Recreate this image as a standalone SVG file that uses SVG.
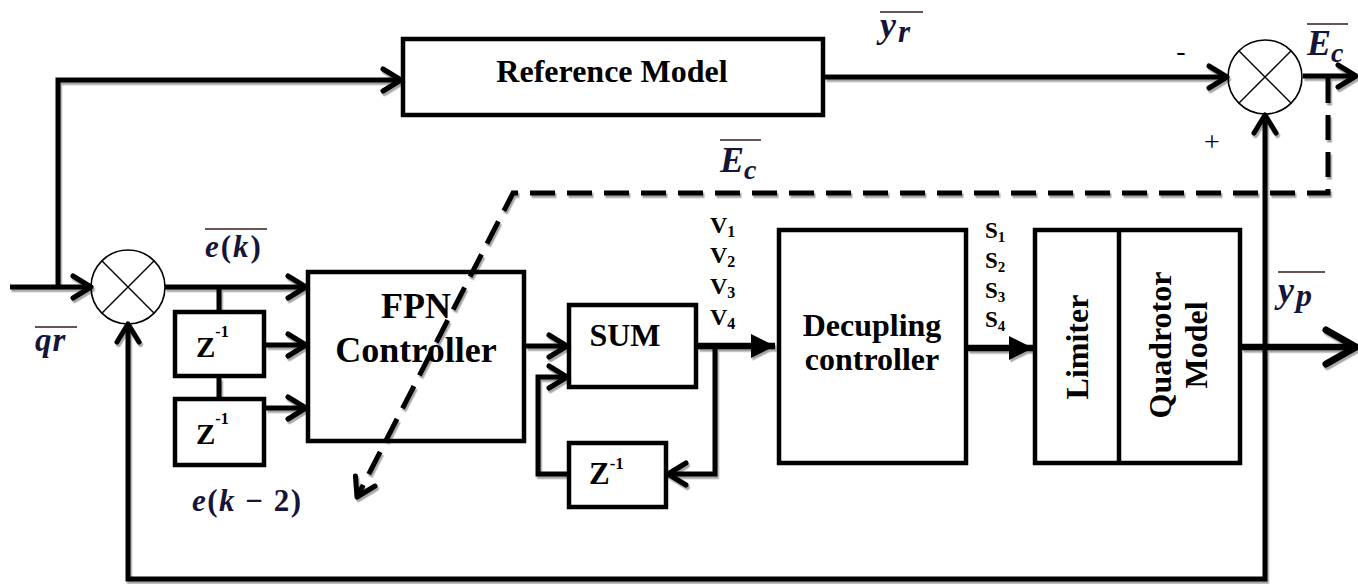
<svg xmlns="http://www.w3.org/2000/svg" width="1358" height="584" viewBox="0 0 1358 584">
<defs>
<style>
.box{fill:#fff;stroke:#000;stroke-width:4.5}
.ln{fill:none;stroke:#000;stroke-width:5;stroke-linejoin:miter}
.thick{fill:none;stroke:#000;stroke-width:6.5}
.dash{fill:none;stroke:#000;stroke-width:5;stroke-dasharray:25 12}
.sumc{fill:#fff;stroke:#000;stroke-width:1.6}
.x{stroke:#000;stroke-width:1.4}
.lbl{font-family:"Liberation Serif","Times New Roman",serif;font-weight:bold;fill:#000}
.reg{font-family:"Liberation Serif","Times New Roman",serif;fill:#000}
.math{font-family:"Liberation Serif","Times New Roman",serif;font-weight:bold;font-style:italic;fill:#15153a}
.up{font-style:normal}
.bar{stroke:#3a1a1a;stroke-width:1.6}
</style>
<filter id="sh" x="-5%" y="-5%" width="110%" height="110%">
<feDropShadow dx="1.5" dy="2.5" stdDeviation="0.6" flood-color="#000" flood-opacity="0.35"/>
</filter>
<marker id="arr" markerUnits="userSpaceOnUse" viewBox="0 0 26 30" refX="22" refY="15" markerWidth="26" markerHeight="30" orient="auto-start-reverse">
<path d="M4,4 L22,15 L4,26" fill="none" stroke="#000" stroke-width="5" stroke-linecap="round" stroke-linejoin="round"/>
</marker>
<marker id="big" markerUnits="userSpaceOnUse" viewBox="0 0 40 44" refX="35" refY="22" markerWidth="40" markerHeight="44" orient="auto">
<path d="M5,5 L35,22 L5,39" fill="none" stroke="#000" stroke-width="7" stroke-linecap="round" stroke-linejoin="round"/>
</marker>
<marker id="tri" markerUnits="userSpaceOnUse" viewBox="0 0 24 24" refX="24" refY="12" markerWidth="24" markerHeight="24" orient="auto">
<path d="M0,0 L24,12 L0,24 z" fill="#000"/>
</marker>
</defs>
<rect width="1358" height="584" fill="#fff"/>

<g id="reference-model">
<rect class="box" x="403" y="39" width="420" height="76"/>
<text class="lbl" x="612" y="82" font-size="32" text-anchor="middle">Reference Model</text>
</g>

<g id="sum1">
<circle class="sumc" cx="128" cy="287" r="37"/>
<line class="x" x1="101.8" y1="260.8" x2="154.2" y2="313.2"/>
<line class="x" x1="101.8" y1="313.2" x2="154.2" y2="260.8"/>
</g>

<g id="sum2">
<circle class="sumc" cx="1265" cy="77" r="37"/>
<line class="x" x1="1238.8" y1="50.8" x2="1291.2" y2="103.2"/>
<line class="x" x1="1238.8" y1="103.2" x2="1291.2" y2="50.8"/>
</g>

<g id="z1">
<rect class="box" x="175" y="312" width="89" height="64"/>
<text class="lbl" x="196" y="357" font-size="29">Z<tspan font-size="16" dy="-20">-1</tspan></text>
</g>

<g id="z2">
<rect class="box" x="175" y="399" width="89" height="66"/>
<text class="lbl" x="196" y="444" font-size="29">Z<tspan font-size="16" dy="-20">-1</tspan></text>
</g>

<g id="fpn">
<rect class="box" x="308" y="272" width="216" height="169"/>
<text class="lbl" x="416" y="318" font-size="36" text-anchor="middle">FPN</text>
<text class="lbl" x="416" y="362" font-size="36" text-anchor="middle">Controller</text>
</g>

<g id="sum-block">
<rect class="box" x="569" y="305" width="127" height="82"/>
<text class="lbl" x="625" y="346" font-size="32" text-anchor="middle">SUM</text>
</g>

<g id="z3">
<rect class="box" x="569" y="443" width="97" height="64"/>
<text class="lbl" x="589" y="484" font-size="31">Z<tspan font-size="17" dy="-15">-1</tspan></text>
</g>

<g id="decoupling">
<rect class="box" x="779" y="230" width="187" height="233"/>
<text class="lbl" x="872" y="336" font-size="32" text-anchor="middle">Decupling</text>
<text class="lbl" x="872" y="370" font-size="32" text-anchor="middle">controller</text>
</g>

<g id="limiter-quadrotor">
<rect class="box" x="1035" y="230" width="205" height="233"/>
<line stroke="#000" stroke-width="4.5" x1="1119" y1="230" x2="1119" y2="463"/>
<text class="lbl" font-size="32" text-anchor="middle" transform="translate(1088,347) rotate(-90)">Limiter</text>
<text class="lbl" font-size="32" text-anchor="middle" transform="translate(1171,345) rotate(-90)">Quadrotor</text>
<text class="lbl" font-size="32" text-anchor="middle" transform="translate(1207,345) rotate(-90)">Model</text>
</g>

<g id="connectors">
<g filter="url(#sh)">
<path class="ln" d="M10,287 H91" marker-end="url(#arr)"/>
<path class="ln" d="M58,287 V80 H401" marker-end="url(#arr)"/>
<path class="ln" d="M825,77 H1227" marker-end="url(#arr)"/>
<path class="ln" d="M1303,76 H1356" marker-end="url(#arr)"/>
<path class="ln" d="M165,287 H306" marker-end="url(#arr)"/>
<path class="ln" d="M219,287 V310 M219,378 V397"/>
<path class="ln" d="M266,345 H306" marker-end="url(#arr)"/>
<path class="ln" d="M266,408 H306" marker-end="url(#arr)"/>
<path class="ln" d="M526,346 H567" marker-end="url(#arr)"/>
<path class="thick" d="M698,346 H775" marker-end="url(#tri)"/>
<path class="ln" d="M715,346 V474 H668" marker-end="url(#arr)"/>
<path class="ln" d="M567,474 H538 V377 H567" marker-end="url(#arr)"/>
<path class="thick" d="M968,348 H1033" marker-end="url(#tri)"/>
<path class="thick" d="M1242,347 H1356" marker-end="url(#big)"/>
<path class="ln" d="M1265,115 V579 H128 V324" marker-start="url(#arr)" marker-end="url(#arr)"/>
<path class="dash" d="M1328,78 V193 H513 L357,497" marker-end="url(#arr)"/>
</g>
</g>

<g id="labels">
<text class="lbl" x="710" y="233" font-size="24">V<tspan font-size="16" dy="4">1</tspan></text>
<text class="lbl" x="710" y="263" font-size="24">V<tspan font-size="16" dy="4">2</tspan></text>
<text class="lbl" x="710" y="294" font-size="24">V<tspan font-size="16" dy="4">3</tspan></text>
<text class="lbl" x="710" y="325" font-size="24">V<tspan font-size="16" dy="4">4</tspan></text>
<text class="lbl" x="985" y="238" font-size="23">S<tspan font-size="15" dy="4">1</tspan></text>
<text class="lbl" x="985" y="268" font-size="23">S<tspan font-size="15" dy="4">2</tspan></text>
<text class="lbl" x="985" y="298" font-size="23">S<tspan font-size="15" dy="4">3</tspan></text>
<text class="lbl" x="985" y="327" font-size="23">S<tspan font-size="15" dy="4">4</tspan></text>
<text class="reg" x="1181" y="60" font-size="28" text-anchor="middle">-</text>
<text class="reg" x="1212" y="151" font-size="28" text-anchor="middle">+</text>

<line class="bar" x1="880" y1="12" x2="923" y2="12"/>
<text class="math" x="880" y="37" font-size="36" letter-spacing="2">y<tspan font-size="31" dy="5">r</tspan></text>

<line class="bar" x1="1307" y1="24" x2="1348" y2="24"/>
<text class="math" x="1307" y="55" font-size="36">E<tspan font-size="28" dy="7">c</tspan></text>

<line class="bar" x1="720" y1="140" x2="761" y2="140"/>
<text class="math" x="720" y="172" font-size="36">E<tspan font-size="28" dy="7">c</tspan></text>

<line class="bar" x1="205" y1="229" x2="267" y2="229"/>
<text class="math" x="205" y="257" font-size="31" letter-spacing="2">e<tspan class="up">(</tspan>k<tspan class="up">)</tspan></text>

<line class="bar" x1="35" y1="327" x2="77" y2="327"/>
<text class="math" x="35" y="351" font-size="33" letter-spacing="1">qr</text>

<line class="bar" x1="1278" y1="272" x2="1325" y2="272"/>
<text class="math" x="1278" y="302" font-size="36" letter-spacing="2">y<tspan font-size="32" dy="4">p</tspan></text>

<text class="math" x="192" y="511" font-size="31" letter-spacing="1.5">e<tspan class="up">(</tspan>k<tspan class="up"> − 2)</tspan></text>
</g>
</svg>
